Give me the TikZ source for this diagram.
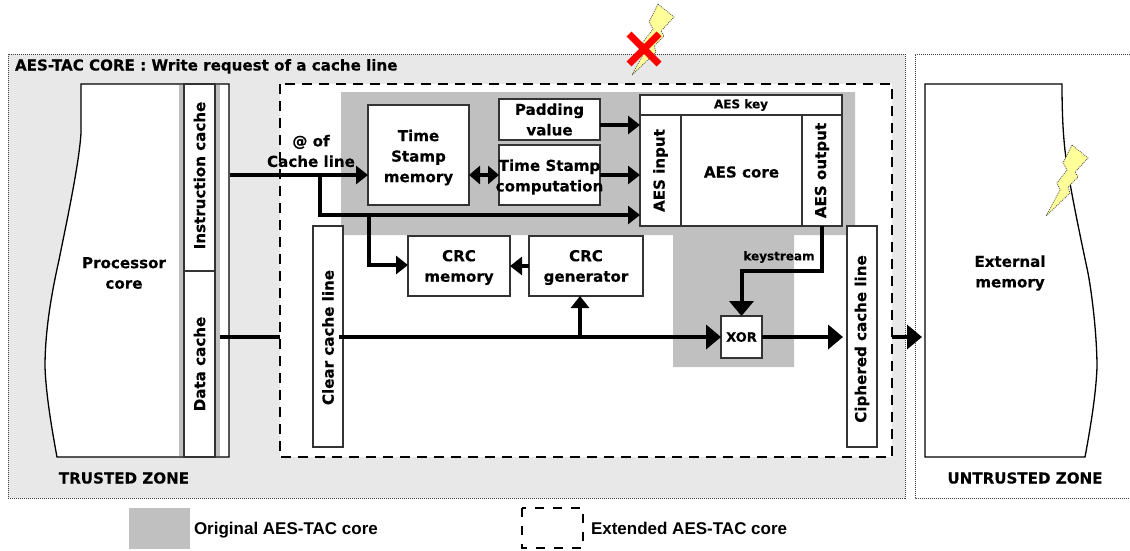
\documentclass[tikz,border=0pt]{standalone}
\usepackage{fontspec}
\setmainfont{DejaVu Sans}[BoldFeatures={FakeBold=0.25}]
\newfontfamily\legendfont{Liberation Sans}
\usetikzlibrary{arrows.meta}
\definecolor{zonegray}{HTML}{E8E8E8}
\definecolor{coregray}{HTML}{C0C0C0}
\definecolor{boltfill}{HTML}{FFFF99}
\definecolor{edgegray}{HTML}{333333}
\newcommand{\mainfs}{\fontsize{15.1}{20.5}\selectfont\bfseries}
\newcommand{\smallfs}{\fontsize{12}{14}\selectfont\bfseries}
\newcommand{\xorfs}{\fontsize{13}{14}\selectfont\bfseries}
\newcommand{\legendfs}{\legendfont\fontsize{17}{20}\selectfont\bfseries}
\tikzset{
  box/.style={draw=edgegray,line width=1.2pt,fill=white,inner sep=0pt,outer sep=0pt,align=center,font=\mainfs},
  lab/.style={inner sep=0pt,outer sep=0pt,align=center,font=\mainfs},
  zone/.style={draw=black!75,line width=0.7pt,dash pattern=on 1pt off 1pt},
  extbox/.style={draw=black,line width=2.6pt,dash pattern=on 10pt off 7pt},
  outline/.style={draw=black,line width=1.3pt,fill=white},
  conn/.style={draw=black,line width=4pt},
  arr/.style={conn,-{Triangle[length=12pt,width=18pt]}},
  bigarr/.style={conn,-{Triangle[length=15pt,width=24pt]}},
  bolt/.style={fill=boltfill,draw=black!70,line width=0.7pt,dash pattern=on 1pt off 1pt},
}
% name, x1, y1, x2, y2, extra options, text
\newcommand{\bx}[7]{\node[box,minimum width={(#4-#2)*1pt},minimum height={(#5-#3)*1pt},#6] (#1) at ({(#2+#4)/2},{(#3+#5)/2}) {#7};}
\newcommand{\boltpath}{(1072,145) -- (1088,158) -- (1075,172) -- (1078,177) -- (1068,187) -- (1070,193) -- (1046,216) -- (1060,190) -- (1057,183) -- (1067,170) -- (1063,163) -- cycle}
\begin{document}
\begin{tikzpicture}[x=1pt,y=-1pt]
\useasboundingbox (0,0) rectangle (1130,550);
% zones
\fill[zonegray] (8,54) rectangle (905,498);
\draw[zone] (8,54) rectangle (905,498);
\draw[zone] (1130,54) -- (915,54) -- (915,498) -- (1130,498);
% processor
\path[outline] (229,84) -- (81,84) -- (81,133) .. controls (79,165) and (66,225) .. (59,260) .. controls (50,300) and (45,335) .. (45,367) .. controls (46,395) and (52,430) .. (57,457) -- (229,457) -- cycle;
\fill[coregray] (179,85) rectangle (184,456);
\fill[coregray] (215,85) rectangle (220,456);
\bx{icache}{184}{84}{215}{271}{}{\rotatebox{90}{\hspace*{4pt}Instruction cache}}
\bx{dcache}{184}{271}{215}{457}{}{\rotatebox{90}{Data cache}}
\node[lab] (proc) at (124,273) {Processor\\core};
% extended core
\fill[white] (280,84) rectangle (892,457);
\draw[extbox] (280,84) rectangle (892,457);
% original core
\fill[coregray] (341,92) -- (855,92) -- (855,235) -- (794,235) -- (794,367) -- (673,367) -- (673,235) -- (341,235) -- cycle;
% boxes
\bx{tsm}{368}{105}{469}{205}{}{}
\node[lab] (tsmtext) at (418.5,157.5) {Time\\Stamp\\memory};
\bx{pad}{499}{99}{600}{140}{}{Padding\\value}
\bx{tsc}{499}{145}{600}{205}{}{}
\node[lab] (tsctext) at (549.5,177) {Time Stamp\\computation};
\bx{key}{640}{95}{842}{115}{font=\smallfs}{AES key}
\bx{aesin}{640}{115}{681}{226}{}{\rotatebox{90}{AES input}}
\bx{core}{681}{115}{802}{226}{}{}
\node[lab] (coretext) at (741.5,172) {AES core};
\bx{aesout}{802}{115}{842}{226}{}{\rotatebox{90}{AES output}}
\bx{crcm}{408}{236}{510}{296}{}{}
\node[lab] (crcmtext) at (459,267.5) {CRC\\memory};
\bx{crcg}{529}{236}{643}{296}{}{}
\node[lab] (crcgtext) at (586,267.5) {CRC\\generator};
\bx{clear}{313}{226}{343}{447}{}{\rotatebox{90}{Clear cache line\hspace*{2pt}}}
\bx{ciph}{847}{226}{877}{447}{}{\rotatebox{90}{Ciphered cache line\hspace*{5pt}}}
\bx{xor}{721}{316}{762}{358}{font=\xorfs}{XOR}
% external memory
\path[outline] (925,84) -- (1062,84) .. controls (1062,110) and (1063,130) .. (1064,140) .. controls (1066,170) and (1080,235) .. (1088,273) .. controls (1093,300) and (1097,340) .. (1097,367) .. controls (1096,395) and (1090,430) .. (1085,457) -- (925,457) -- cycle;
\node[lab] (ext) at (1010,273) {External\\memory};
% connectors
\coordinate (addr) at (230,175);
\coordinate (b1) at (320,175);
\coordinate (b2) at (320,215);
\coordinate (b3) at (369,215);
\coordinate (b4) at (369,265);
\draw[arr] (addr) -- (addr -| tsm.west);
\draw[arr] (b1) -- (b2) -- (b2 -| aesin.west);
\draw[arr] (b3) -- (b4) -- (b4 -| crcm.west);
\coordinate (p1) at (600,125);
\draw[arr] (p1) -- (p1 -| aesin.west);
\coordinate (t1) at (600,175);
\draw[arr] (t1) -- (t1 -| aesin.west);
\coordinate (t2) at (469,175);
\draw[conn,{Triangle[length=11pt,width=18pt]}-{Triangle[length=11pt,width=18pt]}] (t2) -- (t2 -| tsc.west);
\coordinate (g1) at (529,266);
\draw[arr] (g1) -- (g1 -| crcm.east);
\coordinate (d1) at (220,337);
\coordinate (d2) at (280,337);
\draw[conn] (d1) -- (d2);
\coordinate (d3) at (339,337);
\draw[bigarr] (d3) -- (d3 -| xor.west);
\coordinate (d4) at (580,337);
\draw[arr] (d4) -- (d4 |- crcg.south);
\coordinate (x2) at (843,337);
\draw[bigarr] (xor.east) -- (x2);
\coordinate (k1) at (822,226);
\coordinate (k2) at (822,271);
\draw[bigarr] (k1) -- (k2) -- (k2 -| xor.north) -- (xor.north);
\coordinate (e1) at (892,337);
\coordinate (e2) at (922,337);
\draw[bigarr] (e1) -- (e2);
% labels
\node[lab] (addrlab) at (311,151) {@ of\\Cache line};
\node[lab,font=\smallfs] (kslab) at (779,257) {keystream};
\node[lab,anchor=base west] (title) at (15,70.5) {AES-TAC CORE : Write request of a cache line};
\node[lab] (tz) at (124,478) {TRUSTED ZONE};
\node[lab] (uz) at (1025,478) {UNTRUSTED ZONE};
% attack marks
\path[bolt,shift={(-414,-141)}] \boltpath;
\path[bolt] \boltpath;
\draw[red,line width=7pt] (629,34) -- (659,64);
\draw[red,line width=7pt] (659,34) -- (629,64);
% legend
\fill[coregray] (129,508) rectangle (190,549);
\node[lab,anchor=base west,font=\legendfs] (leg1) at (194,534) {Original AES-TAC core};
\draw[line width=2pt,dash pattern=on 9pt off 9pt] (522,508) rectangle (583,548);
\node[lab,anchor=base west,font=\legendfs] (leg2) at (591,534) {Extended AES-TAC core};
\end{tikzpicture}
\end{document}
